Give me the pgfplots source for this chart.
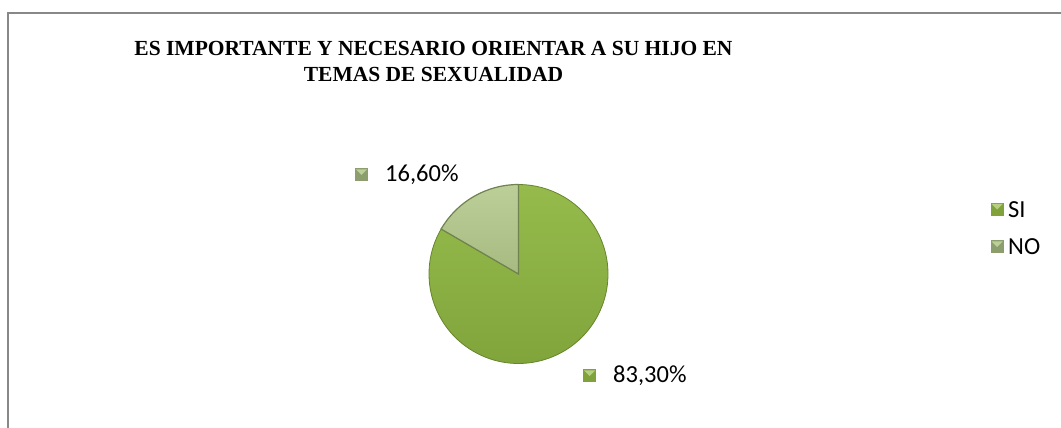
\documentclass[border=0pt]{standalone}
\usepackage{pgfplots}
\pgfplotsset{compat=1.18}
\usepackage{pgfplotstable}
\usepackage{fontspec}
\setmainfont{Liberation Serif}
\newfontfamily\calibri{Carlito}
\usetikzlibrary{calc}

\pgfplotstableread{
cat val
SI 83.3
NO 16.6
}\piedata

\definecolor{siA}{HTML}{96BB4C}
\definecolor{siB}{HTML}{7FA33A}
\definecolor{siE}{HTML}{66852C}
\definecolor{noA}{HTML}{BCCF98}
\definecolor{noB}{HTML}{A6BA82}
\definecolor{noE}{HTML}{6F8250}
\definecolor{frm}{HTML}{888888}

\pgfplotstablegetelem{0}{val}\of\piedata \let\vSI\pgfplotsretval
\pgfplotstablegetelem{1}{val}\of\piedata \let\vNO\pgfplotsretval
\pgfmathsetmacro\aNO{90+360*\vNO/(\vNO+\vSI)}

% marker square: center, dark colour, light colour
\newcommand\mk[3]{%
  \fill[#2] ($#1+(-6.5pt,-6.5pt)$) rectangle ($#1+(6.5pt,6.5pt)$);
  \fill[#3] ($#1+(-5.5pt,5.5pt)$) -- ($#1+(5.5pt,5.5pt)$) -- ($#1+(0pt,0pt)$) -- cycle;
}

\begin{document}
\begin{tikzpicture}[x=1pt,y=1pt]
\useasboundingbox (0,0) rectangle (1061,428);
% frame
\draw[frm,line width=2pt] (8.2,-2) -- (8.2,414.5) -- (1063,414.5);

% title
\node[anchor=base,font=\bfseries\fontsize{21.5}{24}\selectfont,inner sep=0pt] at (433.5,372) {ES IMPORTANTE Y NECESARIO ORIENTAR A SU HIJO EN};
\node[anchor=base,font=\bfseries\fontsize{21.5}{24}\selectfont,inner sep=0pt] at (433.5,346.3) {TEMAS DE SEXUALIDAD};

\begin{axis}[
  at={(518.5pt,154pt)}, anchor=origin,
  scale only axis, width=179pt, height=179pt,
  xmin=-1, xmax=1, ymin=-1, ymax=1,
  hide axis, clip=false]
  % SI slice
  \shade[top color=siA, bottom color=siB, draw=siE, line width=0.8pt]
    (axis cs:0,0) -- (axis cs:{cos(\aNO)},{sin(\aNO)})
    arc[start angle=\aNO, end angle=450, radius=89.5pt] -- cycle;
  % NO slice
  \shade[top color=noA, bottom color=noB, draw=noE, line width=1.2pt]
    (axis cs:0,0) -- (axis cs:0,1)
    arc[start angle=90, end angle=\aNO, radius=89.5pt] -- cycle;
\end{axis}

% data labels
\mk{(361.5,253)}{noB!85!black}{noA}
\node[anchor=west,inner sep=0pt,font=\calibri\fontsize{24.5}{28}\selectfont] at (385,253) {16,60\%};
\mk{(589.5,52)}{siB}{siA!70!white}
\node[anchor=west,inner sep=0pt,font=\calibri\fontsize{24.5}{28}\selectfont] at (613,52) {83,30\%};

% legend
\mk{(997,218.5)}{siB}{siA!70!white}
\node[anchor=west,inner sep=0pt,font=\calibri\fontsize{24.5}{28}\selectfont] at (1008,218.5) {SI};
\mk{(997,181)}{noB!85!black}{noA}
\node[anchor=west,inner sep=0pt,font=\calibri\fontsize{24.5}{28}\selectfont] at (1008,181) {NO};
\end{tikzpicture}
\end{document}
